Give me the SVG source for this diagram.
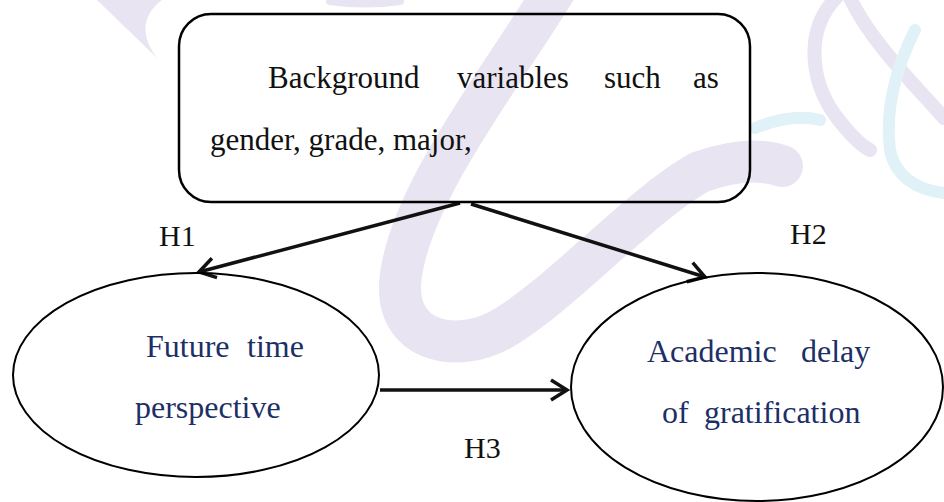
<svg xmlns="http://www.w3.org/2000/svg" width="944" height="502" viewBox="0 0 944 502">
<style>
.wm{fill:none;stroke-linecap:round}
.wp{stroke:#e9e4f1}
.wc{stroke:#e0f2f8}
.shape{fill:none;stroke:#000}
text{font-family:'Liberation Serif','Times New Roman','DejaVu Serif',serif;fill:#111}
.box{font-size:31px}
.lab{font-size:30px}
.el{font-size:32px;fill:#1d2f66}
.arr{stroke:#111;stroke-width:3.5;fill:none}
</style>
<defs>
<marker id="ah" markerUnits="userSpaceOnUse" markerWidth="30" markerHeight="30" refX="0" refY="0" viewBox="-20 -15 25 30" orient="auto">
<path d="M -16 -10 L 0 0 L -16 10" fill="none" stroke="#111" stroke-width="3.5"/>
</marker>
</defs>
<rect width="944" height="502" fill="#fff"/>
<g id="watermark">
<path class="wm wp" stroke-width="42" d="M 555 -10 C 500 80 405 200 400 285 C 398 345 460 352 500 330 C 560 296 640 205 700 172 C 740 158 765 160 782 166"/>
<path fill="#e9e4f1" d="M 97 0 L 162 0 C 142 15 140 35 157 58 Z"/>
<path class="wm wp" stroke-width="8" d="M 330 1 Q 365 6 400 1"/>
<path class="wm wp" stroke-width="14" d="M 836 -2 C 805 30 810 80 835 115 C 850 135 860 145 870 150"/>
<path class="wm wp" stroke-width="14" d="M 850 -2 C 870 40 910 80 944 118"/>
<path class="wm wc" stroke-width="12" d="M 755 128 C 780 118 800 115 820 120"/>
<path class="wm wc" stroke-width="12" d="M 915 30 C 895 70 885 110 890 150 C 895 175 915 190 944 193"/>
</g>
<g id="connectors">
<line class="arr" x1="460" y1="203" x2="199" y2="272" marker-end="url(#ah)"/>
<line class="arr" x1="471" y1="204" x2="705" y2="277" marker-end="url(#ah)"/>
<line class="arr" x1="380" y1="390" x2="567" y2="390" marker-end="url(#ah)"/>
<text class="lab" x="159" y="246">H1</text>
<text class="lab" x="790" y="244">H2</text>
<text class="lab" x="464" y="458">H3</text>
</g>
<g id="background-box">
<rect class="shape" x="179" y="14" width="571" height="188" rx="32" ry="32" stroke-width="2.5"/>
<text class="box" x="268" y="88">Background</text>
<text class="box" x="457" y="88">variables</text>
<text class="box" x="604" y="88">such</text>
<text class="box" x="693" y="88">as</text>
<text class="box" x="210" y="150">gender, grade, major,</text>
</g>
<g id="future-time-perspective">
<ellipse class="shape" cx="196" cy="375" rx="183" ry="102" stroke-width="2"/>
<text class="el" x="146" y="357">Future</text>
<text class="el" x="247" y="357">time</text>
<text class="el" x="135" y="418">perspective</text>
</g>
<g id="academic-delay">
<ellipse class="shape" cx="757" cy="387" rx="186" ry="114" stroke-width="2"/>
<text class="el" x="647" y="362">Academic</text>
<text class="el" x="801" y="362">delay</text>
<text class="el" x="662" y="423">of</text>
<text class="el" x="704" y="423">gratification</text>
</g>
</svg>
